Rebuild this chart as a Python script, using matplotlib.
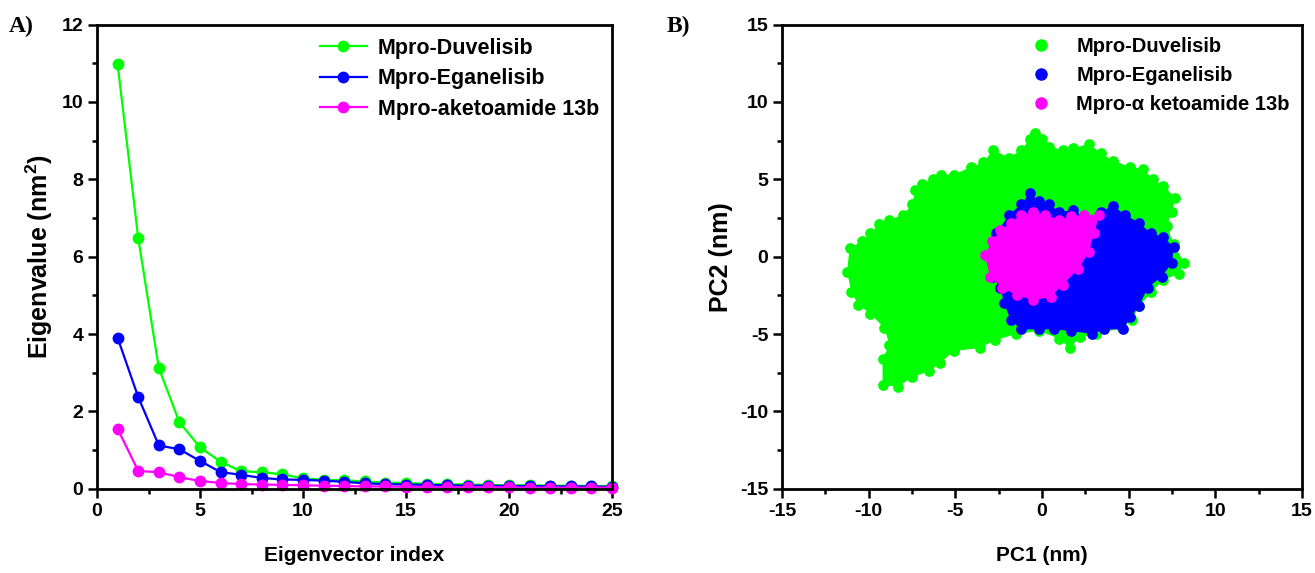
import matplotlib
matplotlib.use("Agg")
import matplotlib.pyplot as plt
from matplotlib.lines import Line2D
from matplotlib.ticker import MultipleLocator

# panel A: eigenvalues of the first 25 eigenvectors
eig_index = list(range(1, 26))
eig_duvelisib = [10.97, 6.48, 3.12, 1.72, 1.07, 0.70, 0.45, 0.43, 0.37, 0.27,
                 0.23, 0.22, 0.19, 0.16, 0.15, 0.13, 0.12, 0.11, 0.10, 0.09,
                 0.09, 0.08, 0.08, 0.07, 0.07]
eig_eganelisib = [3.90, 2.37, 1.12, 1.02, 0.72, 0.43, 0.36, 0.28, 0.24, 0.23,
                  0.21, 0.18, 0.14, 0.12, 0.11, 0.10, 0.09, 0.08, 0.08, 0.07,
                  0.07, 0.06, 0.06, 0.06, 0.05]
eig_ketoamide = [1.55, 0.46, 0.43, 0.30, 0.20, 0.15, 0.12, 0.11, 0.10, 0.09,
                 0.08, 0.07, 0.06, 0.06, 0.05, 0.05, 0.04, 0.04, 0.04, 0.04,
                 0.03, 0.03, 0.03, 0.03, 0.03]

# panel B: outlines of the PC1/PC2 projection clouds (nm)
duv_pc1 = [-11.25, -11.1, -10.4, -9.9, -9.4, -8.8, -8.0, -7.5, -7.3, -6.9, -6.3, -5.8,
           -5.1, -4.1, -3.4, -2.8, -1.9, -1.2, -0.7, -0.4, 0.0, 0.4, 1.2, 1.8, 2.7,
           3.4, 4.1, 5.1, 5.8, 6.4, 7.0, 7.7, 7.5, 7.2, 7.6, 8.2, 7.9, 7.0, 6.3, 5.6,
           5.2, 4.6, 3.1, 2.2, 1.6, 1.0, -0.2, -1.5, -2.7, -3.6, -5.1, -5.9, -6.5,
           -7.5, -8.3, -9.2, -9.2, -8.8, -9.1, -9.9, -10.6, -11.0]
duv_pc2 = [-0.96, 0.56, 1.0, 1.5, 2.1, 2.4, 2.7, 3.4, 4.3, 4.7, 5.0, 5.3,
           5.3, 5.8, 6.1, 6.9, 6.4, 6.9, 7.6, 8.0, 7.6, 7.1, 6.9, 7.0, 7.3,
           6.7, 6.2, 5.8, 5.7, 5.0, 4.6, 3.8, 2.9, 2.0, 0.8, -0.4, -1.1, -1.5, -2.3, -3.2,
           -4.1, -4.6, -5.0, -5.2, -5.9, -5.3, -4.8, -5.0, -5.4, -5.9, -6.1, -6.9, -7.4,
           -7.8, -8.4, -8.3, -6.6, -5.7, -4.6, -3.7, -3.1, -2.3]
ega_pc1 = [-2.66, -1.9, -1.2, -0.7, -0.2, 0.4, 1.0, 1.8, 2.7, 3.4, 4.1, 4.8, 5.6,
           6.3, 7.0, 7.6, 7.5, 6.9, 6.1, 5.6, 5.1, 4.7, 3.6, 2.9, 1.7, 0.7, -0.2,
           -1.2, -1.8, -2.2, -2.4, -2.9, -3.0]
ega_pc2 = [1.5, 2.7, 3.4, 4.1, 3.6, 3.4, 2.9, 3.0, 2.4, 2.9, 3.3, 2.7, 2.2,
           1.5, 1.3, 0.6, -0.4, -1.3, -2.0, -3.2, -3.9, -4.7, -4.7, -5.0, -4.8, -4.7, -4.7,
           -4.7, -4.1, -3.0, -2.0, -1.3, 0.1]
keto_pc1 = [-3.3, -2.9, -2.4, -1.8, -1.2, -0.5, 0.2, 1.0, 1.7, 2.4, 3.3, 3.0, 2.7,
            2.1, 1.2, 0.5, -0.5, -1.45, -2.3, -3.0]
keto_pc2 = [0.1, 1.0, 1.7, 2.2, 2.7, 2.9, 2.7, 2.4, 2.6, 2.7, 2.7, 1.5, 0.3,
            -0.8, -1.8, -2.6, -2.8, -2.5, -2.0, -1.3]

labels_a = ["Mpro-Duvelisib", "Mpro-Eganelisib", "Mpro-aketoamide 13b"]
labels_b = ["Mpro-Duvelisib", "Mpro-Eganelisib", "Mpro-\u03b1 ketoamide 13b"]
colors = ["#00ff00", "#0000ff", "#ff00ff"]

plt.rcParams["font.family"] = ["Liberation Sans", "DejaVu Sans"]
plt.rcParams["font.weight"] = "bold"
plt.rcParams["axes.labelweight"] = "bold"
plt.rcParams["axes.unicode_minus"] = False

fig = plt.figure(figsize=(13.15, 5.73), dpi=100)
ax_a = fig.add_axes([0.0738, 0.147, 0.3916, 0.810])
ax_b = fig.add_axes([0.5947, 0.147, 0.3954, 0.810])


def style_axes(ax):
    for side in ax.spines.values():
        side.set_linewidth(2)
    ax.tick_params(which="major", direction="out", length=6.5, width=1.8,
                   labelsize=14, top=False, right=False)
    ax.tick_params(which="minor", direction="out", length=3.5, width=1.8,
                   top=False, right=False)
    for lab in ax.get_xticklabels() + ax.get_yticklabels():
        lab.set_fontweight("bold")


# --- A) eigenvalue spectrum
for vals, lab, col in zip([eig_duvelisib, eig_eganelisib, eig_ketoamide], labels_a, colors):
    ax_a.plot(eig_index, vals, color=col, lw=1.6, marker="o", markersize=7.5,
              label=lab, clip_on=False)
ax_a.set_xlim(0, 25)
ax_a.set_ylim(0, 12)
ax_a.xaxis.set_major_locator(MultipleLocator(5))
ax_a.xaxis.set_minor_locator(MultipleLocator(2.5))
ax_a.yaxis.set_major_locator(MultipleLocator(2))
ax_a.yaxis.set_minor_locator(MultipleLocator(1))
ax_a.set_xlabel("Eigenvector index", fontsize=15, labelpad=19)
ax_a.set_ylabel("Eigenvalue (nm$\\mathregular{^2}$)", fontsize=18, labelpad=5)
style_axes(ax_a)
ax_a.legend(loc="upper right", frameon=False, fontsize=15.5, handlelength=2.2,
            handletextpad=0.5, labelspacing=0.45, borderpad=0.1, borderaxespad=0.5)

# --- B) PC1 vs PC2 projections
clouds = [(duv_pc1, duv_pc2), (ega_pc1, ega_pc2), (keto_pc1, keto_pc2)]
for (px, py), col in zip(clouds, colors):
    ax_b.fill(px, py, color=col, lw=0)
    ax_b.scatter(px, py, s=60, color=col, lw=0)
ax_b.set_xlim(-15, 15)
ax_b.set_ylim(-15, 15)
for axis in (ax_b.xaxis, ax_b.yaxis):
    axis.set_major_locator(MultipleLocator(5))
    axis.set_minor_locator(MultipleLocator(2.5))
ax_b.set_xlabel("PC1 (nm)", fontsize=15, labelpad=19)
ax_b.set_ylabel("PC2 (nm)", fontsize=18, labelpad=5)
style_axes(ax_b)
handles = [Line2D([], [], ls="none", marker="o", markersize=8, color=c) for c in colors]
ax_b.legend(handles, labels_b, loc="upper right", frameon=False, fontsize=14.5,
            handlelength=1.5, handletextpad=1.0, labelspacing=0.5,
            borderpad=0.1, borderaxespad=0.5)

fig.text(0.007, 0.953, "A)", family="Liberation Serif", fontsize=17, weight="bold", va="center")
fig.text(0.507, 0.953, "B)", family="Liberation Serif", fontsize=17, weight="bold", va="center")

fig.savefig("out.png", dpi=100)
